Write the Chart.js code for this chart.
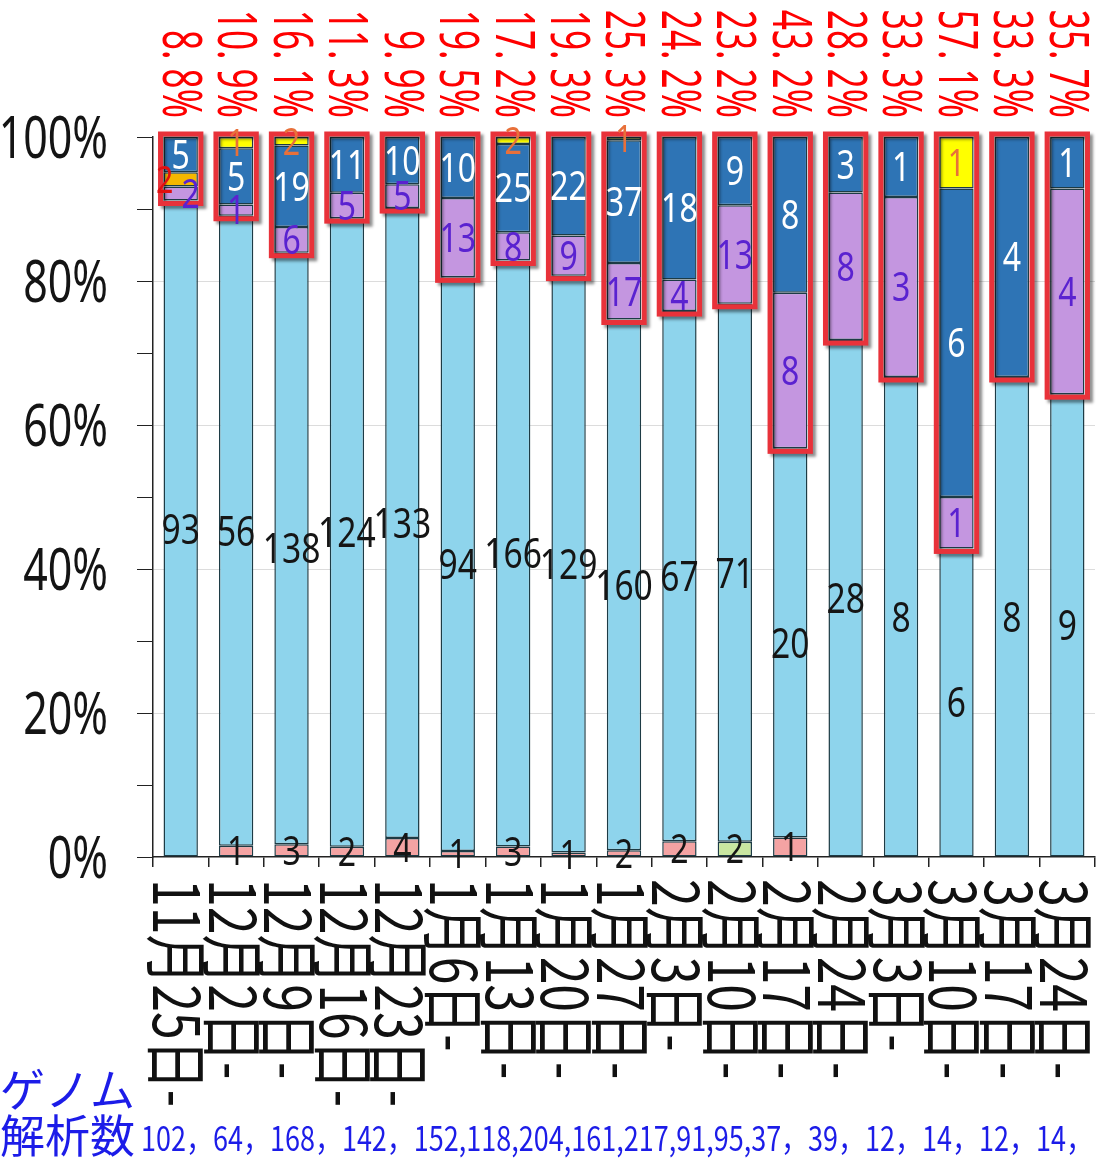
<!DOCTYPE html>
<html><head><meta charset="utf-8">
<script src="https://cdn.jsdelivr.net/npm/chart.js@4.4.1/dist/chart.umd.min.js"></script>
<style>html,body{margin:0;padding:0;background:#fff;}canvas{display:block;}</style>
</head><body>
<canvas id="c" width="1101" height="1160"></canvas>
<script>
// ---- data ----
const categories = ['11月25日-','12月2日-','12月9日-','12月16日-','12月23日-','1月6日-','1月13日-','1月20日-','1月27日-','2月3日-','2月10日-','2月17日-','2月24日-','3月3日-','3月10日-','3月17日-','3月24日-'];
const totals      = [102, 64, 168, 142, 152, 118, 204, 161, 217, 91, 95, 37, 39, 12, 14, 12, 14];
const pinkCounts  = [0, 1, 3, 2, 4, 1, 3, 1, 2, 2, 0, 1, 0, 0, 0, 0, 0];
const greenCounts = [0, 0, 0, 0, 0, 0, 0, 0, 0, 0, 2, 0, 0, 0, 0, 0, 0];
const lightBlueCounts = [93, 56, 138, 124, 133, 94, 166, 129, 160, 67, 71, 20, 28, 8, 6, 8, 9];
const purpleCounts = [2, 1, 6, 5, 5, 13, 8, 9, 17, 4, 13, 8, 8, 3, 1, 0, 4];
const goldCounts   = [2, 0, 0, 0, 0, 0, 0, 0, 0, 0, 0, 0, 0, 0, 0, 0, 0];
const darkBlueCounts = [5, 5, 19, 11, 10, 10, 25, 22, 37, 18, 9, 8, 3, 1, 6, 4, 1];
const yellowCounts = [0, 1, 2, 0, 0, 0, 2, 0, 1, 0, 0, 0, 0, 0, 1, 0, 0];
const percentLabels = ['8. 8%','10. 9%','16. 1%','11. 3%','9. 9%','19. 5%','17. 2%','19. 3%','25. 3%','24. 2%','23. 2%','43. 2%','28. 2%','33. 3%','57. 1%','33. 3%','35. 7%'];
const yTickLabelValues = [0, 20, 40, 60, 80, 100];
const bottomTitleLines = ['ゲノム', '解析数'];
const totalSeparators = ['，','，','，','，',',',',',',',',',',',',',',','，','，','，','，','，','，'];

// ---- styles ----
const series = [
  {name:'pink',   counts:pinkCounts,      color:'#F4A3A3', text:'#151515', size:40},
  {name:'green',  counts:greenCounts,     color:'#C9E6A0', text:'#151515', size:40},
  {name:'lblue',  counts:lightBlueCounts, color:'#8ED4EC', text:'#151515', size:42},
  {name:'purple', counts:purpleCounts,    color:'#C496E0', text:'#5A22D0', size:40},
  {name:'gold',   counts:goldCounts,      color:'#F5B800', text:'#E01010', size:38},
  {name:'dblue',  counts:darkBlueCounts,  color:'#2E74B5', text:'#FFFFFF', size:40},
  {name:'yellow', counts:yellowCounts,    color:'#FFFF00', text:'#E8703A', size:38}
];
const LB_INDEX = 2;

function toPct(arr){ return arr.map((v,i)=> v>0 ? v/totals[i]*100 : null); }

function drawText(ctx, txt, x, y, o){
  ctx.save();
  ctx.translate(x, y);
  if (o.rot) ctx.rotate(o.rot);
  ctx.scale(o.sx || 1, 1);
  ctx.font = o.font;
  ctx.fillStyle = o.color;
  ctx.textAlign = o.align || 'center';
  ctx.textBaseline = o.baseline || 'alphabetic';
  ctx.fillText(txt, 0, o.dy || 0);
  ctx.restore();
}

const overlay = {
  id:'overlay',
  afterDatasetsDraw(chart){
    const ctx = chart.ctx;
    const yS = chart.scales.y;
    const n = categories.length;
    const lbMeta = chart.getDatasetMeta(LB_INDEX);
    for (let i=0;i<n;i++){
      const el = lbMeta.data[i];
      const top = yS.getPixelForValue(100);
      const bottom = el.y;
      ctx.save();
      ctx.shadowColor = 'rgba(0,0,0,0.45)';
      ctx.shadowBlur = 3; ctx.shadowOffsetX = 3; ctx.shadowOffsetY = 3;
      ctx.strokeStyle = '#E8323A';
      ctx.lineWidth = 5;
      ctx.strokeRect(el.x - el.width/2 - 3, top - 3, el.width + 6, bottom - top + 6);
      ctx.restore();
    }
    for (let i=0;i<n;i++){
      const items = [];
      series.forEach((s,k)=>{
        const v = s.counts[i];
        if (!v) return;
        const el = chart.getDatasetMeta(k).data[i];
        items.push({txt:String(v), x:el.x, y:(el.y+el.base)/2, s});
      });
      for (let j=1;j<items.length;j++){
        if (Math.abs(items[j].y - items[j-1].y) < 20){
          items[j-1].x += 10; items[j].x -= 16;
        }
      }
      items.forEach(it=>{
        const F = it.s.size;
        drawText(ctx, it.txt, it.x, it.y, {font: F+'px "Noto Sans"', color: it.s.text, sx:0.8, dy: 0.357*F});
      });
    }
  },
  afterDraw(chart){
    const ctx = chart.ctx;
    const xS = chart.scales.x, yS = chart.scales.y;
    percentLabels.forEach((t,i)=>{
      const x = xS.getPixelForValue(i);
      drawText(ctx, t, x + 2, 118, {rot:Math.PI/2, sx:0.64, font:'55px "Noto Sans"', color:'#FF0000', align:'right', dy:0.357*55});
    });
    categories.forEach((t,i)=>{
      const x = xS.getPixelForValue(i);
      drawText(ctx, t, x - 3, 879, {rot:Math.PI/2, sx:0.78, font:'64px "Noto Sans CJK JP"', color:'#111', align:'left', baseline:'middle'});
    });
    yTickLabelValues.forEach(v=>{
      const y = yS.getPixelForValue(v);
      drawText(ctx, v+'%', 108, y, {sx:0.74, font:'58px "Noto Sans"', color:'#141414', align:'right', dy:0.357*58});
    });
    drawText(ctx, bottomTitleLines[0], 0, 1090, {font:'45px "Noto Sans CJK JP"', color:'#1C1CE8', align:'left', baseline:'middle'});
    drawText(ctx, bottomTitleLines[1], 0, 1136, {font:'45px "Noto Sans CJK JP"', color:'#1C1CE8', align:'left', baseline:'middle'});
    let str = '';
    totals.forEach((v,i)=>{ str += v + totalSeparators[i]; });
    ctx.save();
    ctx.font = '34px "Noto Sans CJK JP"';
    const w = ctx.measureText(str).width;
    ctx.restore();
    const left = 141, right = 1093;
    drawText(ctx, str, left, 1138, {font:'34px "Noto Sans CJK JP"', color:'#1C1CE8', align:'left', baseline:'middle', sx:(right-left)/w});
  }
};

new Chart(document.getElementById('c'), {
  type:'bar',
  data:{
    labels: categories,
    datasets: series.map(s=>({
      label: s.name,
      data: toPct(s.counts),
      backgroundColor: s.color,
      borderColor: '#1D3B45',
      borderWidth: 1.5,
      borderSkipped: false,
      barPercentage: 0.62,
      categoryPercentage: 1.0
    }))
  },
  options:{
    responsive:false,
    animation:false,
    devicePixelRatio:1,
    layout:{padding:{top:137, right:6, left:0, bottom:0}},
    plugins:{legend:{display:false}, tooltip:{enabled:false}},
    scales:{
      x:{
        stacked:true, offset:true,
        grid:{offset:true, drawOnChartArea:false, drawTicks:true, tickLength:10, tickColor:'#222', lineWidth:1.5},
        border:{display:true, color:'#222', width:1.5},
        ticks:{display:false},
        afterFit(s){ s.height = 303; }
      },
      y:{
        stacked:true, min:0, max:100,
        ticks:{display:false, stepSize:10},
        grid:{
          color:(c)=> (c.tick && c.tick.value%20===0 && c.tick.value>0 && c.tick.value<100) ? '#DCDCDC' : 'rgba(0,0,0,0)',
          tickColor:'#222', tickLength:16, drawTicks:true, lineWidth:1
        },
        border:{display:true, color:'#222', width:1.5},
        afterFit(s){ s.width = 153; }
      }
    }
  },
  plugins:[overlay]
});
</script>
</body></html>
